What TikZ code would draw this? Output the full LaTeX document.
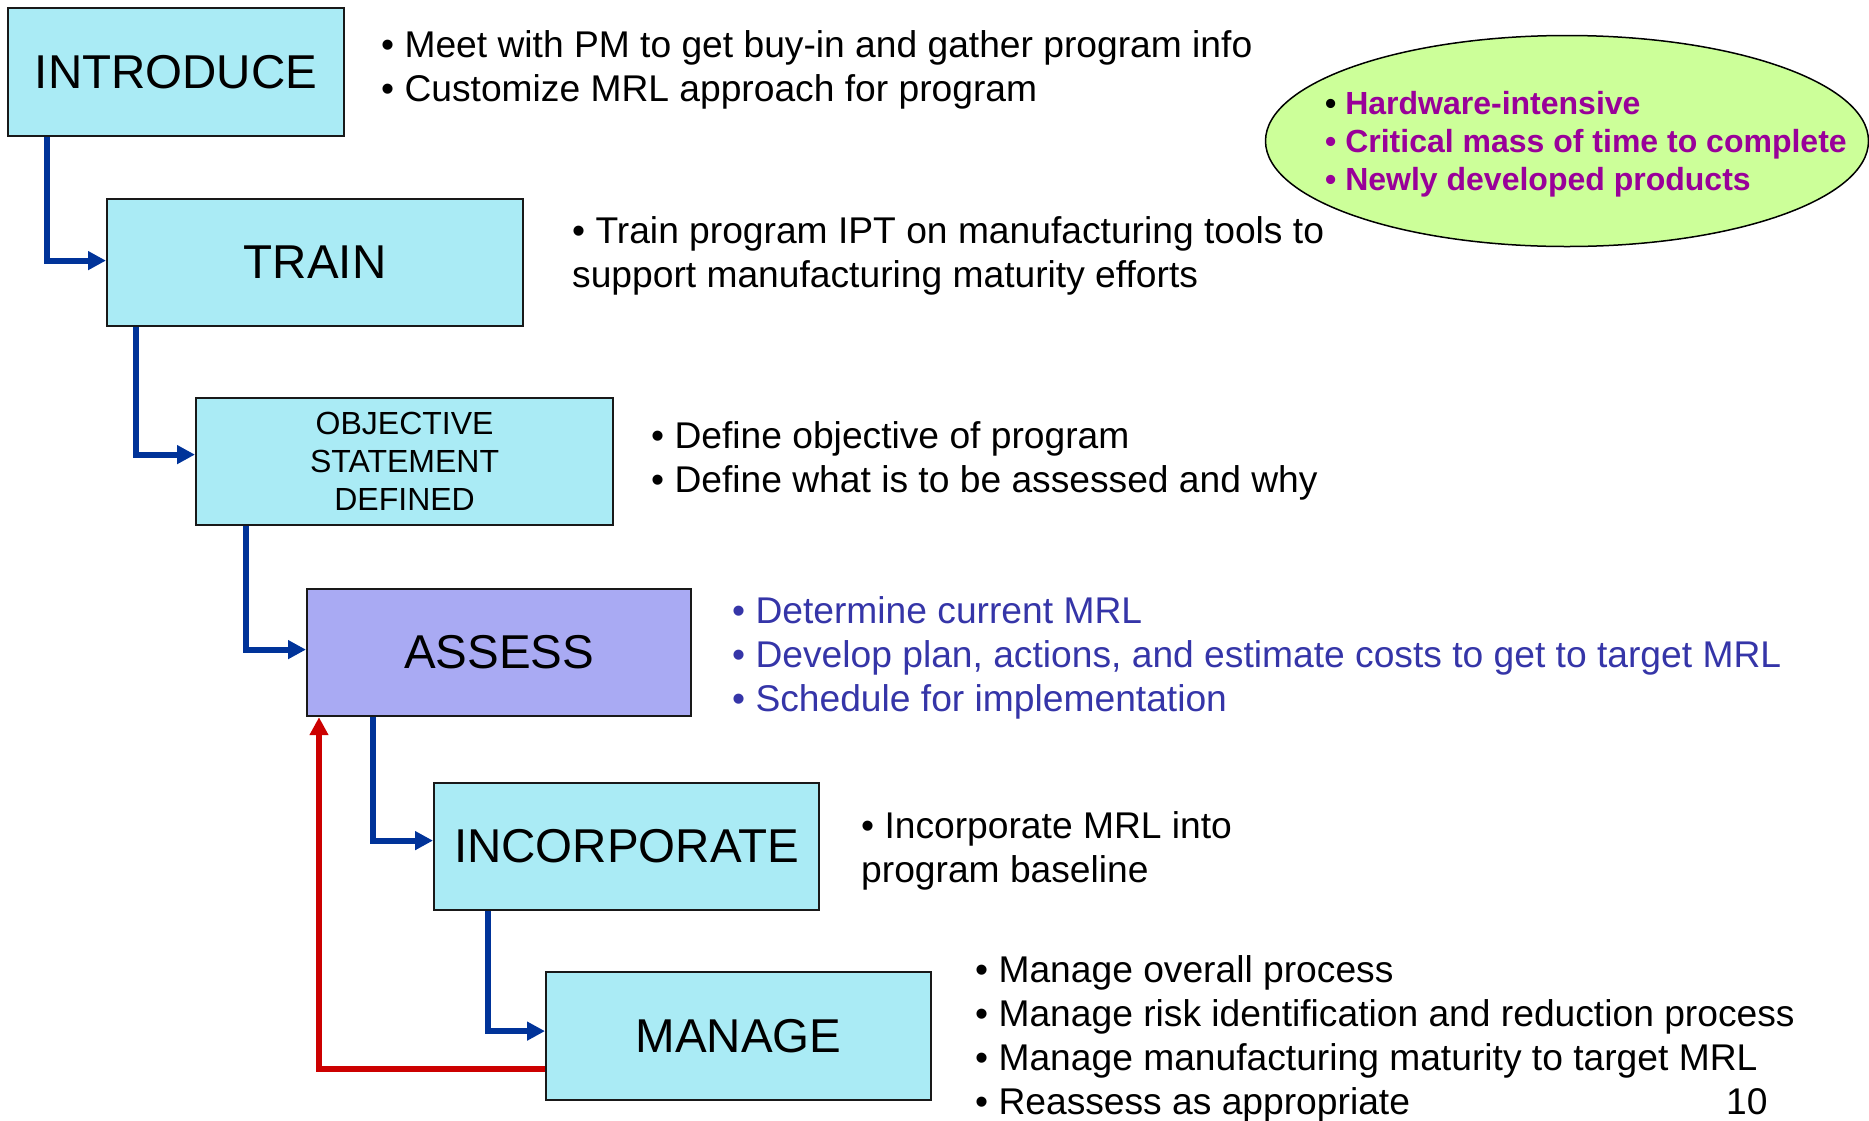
\documentclass[tikz,border=0pt]{standalone}
\usepackage{fontspec}
\setmainfont{Liberation Sans}
\usetikzlibrary{arrows.meta,calc,shapes.geometric}
\definecolor{boxcyan}{HTML}{AAEBF5}
\definecolor{boxlav}{HTML}{A9AAF3}
\definecolor{linkblue}{HTML}{003399}
\definecolor{loopred}{HTML}{CC0000}
\definecolor{assesstext}{HTML}{3535A8}
\definecolor{ovalgreen}{HTML}{CCFF99}
\definecolor{ovaltext}{HTML}{990099}
\begin{document}
\begin{tikzpicture}[x=1pt,y=-1pt,
  stepbox/.style={draw=black!90, line width=2.2pt, fill=boxcyan, inner sep=0pt,
    anchor=north west, align=center, font=\fontsize{47.5}{57}\selectfont},
  smallbox/.style={stepbox, font=\fontsize{32}{38}\selectfont},
  note/.style={anchor=base west, inner sep=0pt, font=\fontsize{37.2}{44}\selectfont},
  bluenote/.style={note, text=assesstext},
  ovalnote/.style={anchor=base west, inner sep=0pt, text=ovaltext,
    font=\fontsize{32}{38}\selectfont\bfseries},
  bluelink/.style={draw=linkblue, line width=6pt,
    -{Triangle[length=18pt,width=18pt]}},
  redlink/.style={draw=loopred, line width=6pt,
    -{Triangle[length=18pt,width=18pt]}}]
\useasboundingbox (0,0) rectangle (1869,1120);

% oval
\node[ellipse, draw=black, line width=1.5pt, fill=ovalgreen, inner sep=0pt,
  minimum width=603pt, minimum height=211pt] (oval) at (1567,141) {};
\node[ovalnote] (o1) at (1325,114) {\textcolor{black}{•} Hardware-intensive};
\node[ovalnote] (o2) at (1325,152) {• Critical mass of time to complete};
\node[ovalnote] (o3) at (1325,190) {• Newly developed products};

% boxes
\node[stepbox, minimum width=336pt, minimum height=128pt] (intro) at (7,7) {INTRODUCE};
\node[stepbox, minimum width=416pt, minimum height=127pt] (train) at (106,198) {TRAIN};
\node[smallbox, minimum width=417pt, minimum height=127pt] (obj) at (195,397) {OBJECTIVE\\STATEMENT\\DEFINED};
\node[stepbox, fill=boxlav, minimum width=384pt, minimum height=127pt] (assess) at (306,588) {ASSESS};
\node[stepbox, minimum width=385pt, minimum height=127pt] (incorp) at (433,782) {INCORPORATE};
\node[stepbox, minimum width=385pt, minimum height=128pt] (manage) at (545,971) {MANAGE};

% notes
\node[note] (n1a) at (381,57) {• Meet with PM to get buy-in and gather program info};
\node[note] (n1b) at (381,101) {• Customize MRL approach for program};
\node[note] (n2a) at (572,243) {• Train program IPT on manufacturing tools to};
\node[note] (n2b) at (572,287) {support manufacturing maturity efforts};
\node[note] (n3a) at (651,448) {• Define objective of program};
\node[note] (n3b) at (651,492) {• Define what is to be assessed and why};
\node[bluenote] (n4a) at (732,623) {• Determine current MRL};
\node[bluenote] (n4b) at (732,667) {• Develop plan, actions, and estimate costs to get to target MRL};
\node[bluenote] (n4c) at (732,711) {• Schedule for implementation};
\node[note] (n5a) at (861,838) {• Incorporate MRL into};
\node[note] (n5b) at (861,882) {program baseline};
\node[note] (n6a) at (975,982) {• Manage overall process};
\node[note] (n6b) at (975,1026) {• Manage risk identification and reduction process};
\node[note] (n6c) at (975,1070) {• Manage manufacturing maturity to target MRL};
\node[note] (n6d) at (975,1114) {• Reassess as appropriate};
\node[note] (pg) at (1726,1114) {10};

% connectors
\draw[bluelink] ($(intro.south west)+(40pt,0)$) |- ($(train.west)+(0,2pt)$);
\draw[bluelink] ($(train.south west)+(30pt,0)$) |- ($(obj.west)+(0,7pt)$);
\draw[bluelink] ($(obj.south west)+(51pt,0)$) |- ($(assess.west)+(0,3pt)$);
\draw[bluelink] ($(assess.south west)+(67pt,0)$) |- ($(incorp.west)+(0,6pt)$);
\draw[bluelink] ($(incorp.south west)+(55pt,0)$) |- ($(manage.west)+(0,5pt)$);
\draw[redlink] ($(manage.south west)+(0,32pt)$) -| ($(assess.south west)+(13pt,0)$);
\end{tikzpicture}
\end{document}
